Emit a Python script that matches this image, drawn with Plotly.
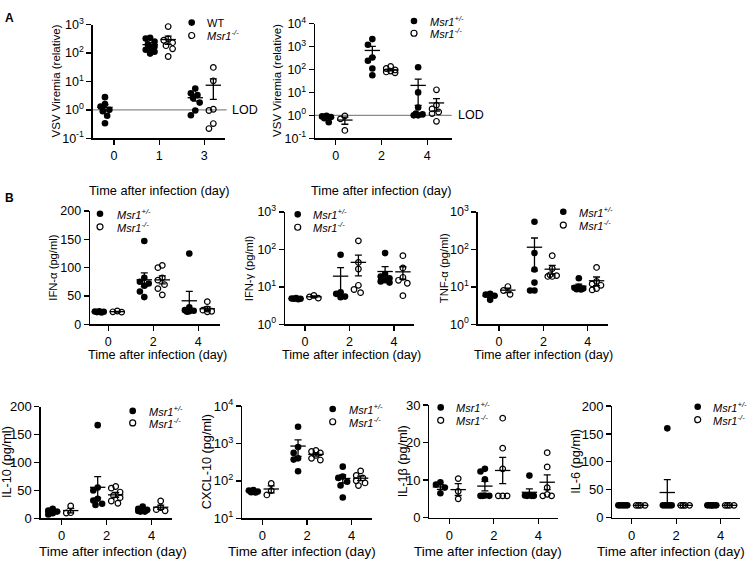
import math
import numpy as np
import plotly.graph_objects as go

W, H = 747, 568
FONT = "Liberation Sans, Arial, sans-serif"

# ---------------- data ----------------
days_a1 = ["0", "1", "3"]
days = ["0", "2", "4"]
lod_value = 1.0

ticks_a1 = [0.1, 1, 10, 100, 1000]
labels_a1 = ["10<sup>-1</sup>", "10<sup>0</sup>", "10<sup>1</sup>", "10<sup>2</sup>", "10<sup>3</sup>"]
ticks_a2 = [0.1, 1, 10, 100, 1000, 10000]
labels_a2 = ["10<sup>-1</sup>", "10<sup>0</sup>", "10<sup>1</sup>", "10<sup>2</sup>", "10<sup>3</sup>", "10<sup>4</sup>"]
ticks_log03 = [1, 10, 100, 1000]
labels_log03 = ["10<sup>0</sup>", "10<sup>1</sup>", "10<sup>2</sup>", "10<sup>3</sup>"]
ticks_log14 = [10, 100, 1000, 10000]
labels_log14 = ["10<sup>1</sup>", "10<sup>2</sup>", "10<sup>3</sup>", "10<sup>4</sup>"]
ticks_200 = [0, 50, 100, 150, 200]
labels_200 = ["0", "50", "100", "150", "200"]
ticks_30 = [0, 10, 20, 30]
labels_30 = ["0", "10", "20", "30"]

# values per day group (day index 0, 1, 2)
vsv_a1_wt = [[2.8, 1.6, 1.3, 1.0, 0.9, 0.62, 0.34],
             [340, 320, 250, 200, 170, 150, 130, 110, 95],
             [5.6, 3.8, 3.3, 2.6, 1.8, 0.95, 0.65]]
vsv_a1_ko = [[],
             [850, 320, 280, 230, 180, 140, 75],
             [31, 10.5, 1.05, 0.95, 0.33, 0.22]]
vsv_a2_het = [[0.95, 0.9, 0.85, 0.75, 0.5],
              [2100, 1200, 330, 240, 110, 56],
              [125, 10, 2.2, 1.2, 1.1, 1.0, 1.0]]
vsv_a2_ko = [[0.95, 0.7, 0.22],
             [135, 110, 95, 85, 78, 72],
             [13, 2.8, 1.9, 1.4, 1.2, 0.55]]
ifna_het = [[23, 22.5, 22, 21.5, 21], [147, 82, 75, 72, 68, 58, 48], [125, 30, 25, 24, 23, 22]]
ifna_ko = [[23.5, 22, 21.5], [104, 100, 82, 78, 70, 63, 52], [40, 27, 25, 23, 22]]
ifng_het = [[5.0, 4.9, 4.8, 4.8, 4.7], [72, 7.2, 6.5, 5.5, 5.3], [80, 22, 19, 17, 15, 14, 13]]
ifng_ko = [[5.9, 5.4, 5.0], [170, 45, 30, 11, 8.5, 7], [68, 32, 18, 15, 12.5, 5.8]]
tnfa_het = [[6.5, 6.2, 5.8, 4.5], [550, 80, 29, 13, 8, 8], [17, 10, 9.5, 9, 8.7, 8.5]]
tnfa_ko = [[10.2, 8.0, 6.3], [68, 31, 21, 20, 19, 19], [33, 14, 12, 11, 9, 8.3]]
il10_het = [[17, 14, 12, 9, 7], [167, 55, 50, 35, 32, 26, 24], [21, 17, 15, 14, 13, 12, 12]]
il10_ko = [[22, 10, 9.5], [57, 54, 47, 41, 37, 31, 27], [31, 19, 15.5, 13.5]]
cxcl10_het = [[57, 55, 52, 50, 49], [2800, 800, 560, 400, 370, 180], [240, 130, 120, 95, 75, 36]]
cxcl10_ko = [[85, 55, 42], [650, 610, 560, 480, 400, 360], [185, 140, 120, 100, 88, 75]]
il1b_het = [[9.4, 8.8, 8.0, 6.5], [13, 12.3, 10.2, 5.9, 5.8, 5.8, 5.8], [11.2, 6, 5.9, 5.8, 5.8, 5.8]]
il1b_ko = [[10.4, 7.0, 5.0], [26.5, 18.5, 13, 5.8, 5.8, 5.8], [17.3, 13.5, 8, 6.2, 5.8, 5.8]]
il6_het = [[22, 22, 22, 22, 22], [160, 22, 22, 22, 22, 22], [22, 22, 22, 22, 22, 22]]
il6_ko = [[22, 22, 22, 22], [22, 22, 22, 22], [22, 22, 22, 22]]

name_wt = "WT"
name_het = "<i>Msr1<sup>+/-</sup></i>"
name_ko = "<i>Msr1<sup>-/-</sup></i>"
xtitle = "Time after infection (day)"

# ---------------- layout spec (positions in px) ----------------
# box = (x_left, x_right, tick0_px, tick2_px, y_top, y_bottom)
rowA = dict(tick=12.5, xt=12.75, yt=11.5, xty=187)
rowB = dict(tick=12.5, xt=12.65, yt=11.2, xty=357)
rowC = dict(tick=13, xt=13.4, yt=12.7, xty=559.5)

panels = [
    dict(g1=vsv_a1_wt, g2=vsv_a1_ko, n1=name_wt, n2=name_ko, cats=days_a1, ytype="log", yr=(-1, 3),
         tv=ticks_a1, tt=labels_a1, ytitle="VSV Viremia (relative)", box=(92.7, 225, 114, 204.3, 16, 133.3),
         row=rowA, ytx=56, xtx=159.5, leg=(191.7, 14, 27.3, 205), lod=(1.013, 1.038)),
    dict(g1=vsv_a2_het, g2=vsv_a2_ko, n1=name_het, n2=name_ko, cats=days, ytype="log", yr=(-1, 4),
         tv=ticks_a2, tt=labels_a2, ytitle="VSV Viremia (relative)", box=(315, 451.7, 335.7, 427.3, 15, 133.3),
         row=rowA, ytx=277, xtx=381.5, leg=(414, 12.3, 25, 428.3), lod=(1.0, 1.031)),
    dict(g1=ifna_het, g2=ifna_ko, n1=name_het, n2=name_ko, cats=days, ytype="linear", yr=(0, 200),
         tv=ticks_200, tt=labels_200, ytitle="IFN-α (pg/ml)", box=(90, 220, 108.3, 198.3, 208.3, 325),
         row=rowB, ytx=53, xtx=157, leg=(100, 211, 224.5, 115)),
    dict(g1=ifng_het, g2=ifng_ko, n1=name_het, n2=name_ko, cats=days, ytype="log", yr=(0, 3),
         tv=ticks_log03, tt=labels_log03, ytitle="IFN-γ (pg/ml)", box=(285, 414, 305, 394, 209.3, 325),
         row=rowB, ytx=249, xtx=351, leg=(297.7, 211.7, 225, 311)),
    dict(g1=tnfa_het, g2=tnfa_ko, n1=name_het, n2=name_ko, cats=days, ytype="log", yr=(0, 3),
         tv=ticks_log03, tt=labels_log03, ytitle="TNF-α (pg/ml)", box=(477.7, 608.3, 499, 587.7, 209.3, 325),
         row=rowB, ytx=444, xtx=543.5, leg=(563.3, 209, 222.7, 576.7)),
    dict(g1=il10_het, g2=il10_ko, n1=name_het, n2=name_ko, cats=days, ytype="linear", yr=(0, 200),
         tv=ticks_200, tt=labels_200, ytitle="IL-10 (pg/ml)", box=(40.7, 171.7, 61.7, 151.7, 410, 525),
         row=rowC, ytx=6.5, xtx=113, leg=(132.7, 414.3, 426.7, 146.7)),
    dict(g1=cxcl10_het, g2=cxcl10_ko, n1=name_het, n2=name_ko, cats=days, ytype="log", yr=(1, 4),
         tv=ticks_log14, tt=labels_log14, ytitle="CXCL-10 (pg/ml)", box=(242.3, 372, 262.3, 351.7, 409.3, 525),
         row=rowC, ytx=207, xtx=302, leg=(332.7, 412.3, 425.5, 346.7)),
    dict(g1=il1b_het, g2=il1b_ko, n1=name_het, n2=name_ko, cats=days, ytype="linear", yr=(0, 30),
         tv=ticks_30, tt=labels_30, ytitle="IL-1β (pg/ml)", box=(429.3, 558, 449.3, 538.3, 408.3, 524.3),
         row=rowC, ytx=403, xtx=488, leg=(440.7, 410.7, 424, 454)),
    dict(g1=il6_het, g2=il6_ko, n1=name_het, n2=name_ko, cats=days, ytype="linear", yr=(0, 200),
         tv=ticks_200, tt=labels_200, ytitle="IL-6 (pg/ml)", box=(612.3, 740, 631.7, 720.7, 409.3, 524.3),
         row=rowC, ytx=576, xtx=670.5, leg=(697.7, 410, 423.3, 711)),
]

GROUP_OFF = 0.2
DOT = 6.6
OPEN = 5.6
LW = 1.3


def ypix(v, p):
    lo, hi = p["yr"]
    ylen = p["box"][5] - p["box"][4]
    if p["ytype"] == "log":
        f = (math.log10(v) - lo) / (hi - lo)
    else:
        f = (v - lo) / (hi - lo)
    return f * ylen


def swarm(vals, p, diam=6.6):
    ys = [ypix(v, p) for v in vals]
    cands = [0.0, -2.2, 2.2, -4.4, 4.4]
    placed = []
    offs = [0.0] * len(vals)
    for k in sorted(range(len(vals)), key=lambda j: -ys[j]):
        best, bestd = 0.0, -1.0
        for c in cands:
            d = min((math.hypot(c - ox, ys[k] - oy) for ox, oy in placed), default=1e9)
            if d >= diam:
                best = c
                break
            if d > bestd:
                bestd, best = d, c
        offs[k] = best
        placed.append((best, ys[k]))
    return offs


fig = go.Figure()
layout = dict(width=W, height=H, margin=dict(l=0, r=0, t=0, b=0), paper_bgcolor="white",
              plot_bgcolor="white", showlegend=False, font=dict(family=FONT, color="black"))
shapes = []
annotations = []

for i, p in enumerate(panels, start=1):
    sfx = "" if i == 1 else str(i)
    xid, yid = "x" + sfx, "y" + sfx
    x0, x1, t0, t2, ytop, ybot = p["box"]
    sp = (t2 - t0) / 2.0
    xr = [(x0 - t0) / sp, 2 + (x1 - t2) / sp]
    r = p["row"]
    axis_common = dict(showline=True, linecolor="black", linewidth=LW, ticks="outside", ticklen=5,
                       tickwidth=LW, tickcolor="black", showgrid=False, zeroline=False,
                       tickfont=dict(size=r["tick"], family=FONT, color="black"), fixedrange=True)
    layout["xaxis" + sfx] = dict(domain=[x0 / W, x1 / W], range=xr, anchor=yid, tickmode="array",
                                 tickvals=[0, 1, 2], ticktext=p["cats"], **axis_common)
    layout["yaxis" + sfx] = dict(domain=[1 - ybot / H, 1 - ytop / H], type=p["ytype"], range=list(p["yr"]),
                                 anchor=xid, tickmode="array", tickvals=p["tv"], ticktext=p["tt"],
                                 **axis_common)

    for gi, (groups, filled) in enumerate([(p["g1"], True), (p["g2"], False)]):
        sign = -1 if gi == 0 else 1
        xs, ys, mx, my, me = [], [], [], [], []
        for d, vals in enumerate(groups):
            if not vals:
                continue
            offs = swarm(vals, p)
            for v, o in zip(vals, offs):
                xs.append(d + sign * GROUP_OFF + o / sp)
                ys.append(v)
            arr = np.array(vals, dtype=float)
            mx.append(d + sign * GROUP_OFF)
            my.append(arr.mean())
            me.append(arr.std(ddof=1) / math.sqrt(len(arr)) if len(arr) > 1 else 0.0)
        if filled:
            mk = dict(symbol="circle", size=DOT, color="black", line=dict(width=0))
        else:
            mk = dict(symbol="circle-open", size=OPEN, color="black", line=dict(width=1.2, color="black"))
        fig.add_trace(go.Scatter(x=xs, y=ys, mode="markers", marker=mk, xaxis=xid, yaxis=yid,
                                 hoverinfo="skip", cliponaxis=False))
        fig.add_trace(go.Scatter(x=mx, y=my, mode="markers", xaxis=xid, yaxis=yid, cliponaxis=False,
                                 marker=dict(symbol="line-ew", size=11, color="black",
                                             line=dict(width=LW, color="black")),
                                 error_y=dict(type="data", array=me, symmetric=True, width=3.5,
                                              thickness=LW, color="black"),
                                 hoverinfo="skip"))

    # legend (symbols as shapes, text as annotations)
    lx, ly1, ly2, ltx = p["leg"]
    rr = DOT / 2
    shapes.append(dict(type="circle", xref="paper", yref="paper", xsizemode="pixel", ysizemode="pixel",
                       xanchor=lx / W, yanchor=1 - ly1 / H, x0=-rr, x1=rr, y0=-rr, y1=rr,
                       fillcolor="black", line=dict(width=0)))
    ro = 3.0
    shapes.append(dict(type="circle", xref="paper", yref="paper", xsizemode="pixel", ysizemode="pixel",
                       xanchor=lx / W, yanchor=1 - ly2 / H, x0=-ro, x1=ro, y0=-ro, y1=ro,
                       fillcolor="rgba(0,0,0,0)", line=dict(width=1.2, color="black")))
    for txt, yy in [(p["n1"], ly1), (p["n2"], ly2)]:
        annotations.append(dict(text=txt, xref="paper", yref="paper", x=ltx / W, y=1 - yy / H,
                                xanchor="left", yanchor="middle", showarrow=False,
                                font=dict(size=11, family=FONT, color="black")))

    # axis titles
    annotations.append(dict(text=xtitle, xref="paper", yref="paper", x=p["xtx"] / W,
                            y=1 - r["xty"] / H, xanchor="center", yanchor="middle", showarrow=False,
                            font=dict(size=r["xt"], family=FONT, color="black")))
    annotations.append(dict(text=p["ytitle"], xref="paper", yref="paper", x=p["ytx"] / W,
                            y=1 - (ytop + ybot) / 2 / H, xanchor="center", yanchor="middle",
                            textangle=-90, showarrow=False,
                            font=dict(size=r["yt"], family=FONT, color="black")))

    # limit of detection line
    if "lod" in p:
        lend, ltext = p["lod"]
        shapes.append(dict(type="line", xref=xid + " domain", yref=yid, x0=0, x1=lend,
                           y0=lod_value, y1=lod_value, line=dict(color="#8a8a8a", width=LW),
                           layer="below"))
        annotations.append(dict(text="LOD", xref=xid + " domain", yref=yid, x=ltext,
                                y=math.log10(lod_value), xanchor="left", yanchor="middle",
                                showarrow=False, font=dict(size=12.5, family=FONT, color="black")))

# panel letters
annotations.append(dict(text="<b>A</b>", xref="paper", yref="paper", x=2.5 / W, y=1 - 9 / H,
                        xanchor="left", yanchor="middle", showarrow=False,
                        font=dict(size=12, family=FONT, color="black")))
annotations.append(dict(text="<b>B</b>", xref="paper", yref="paper", x=2.5 / W, y=1 - 195 / H,
                        xanchor="left", yanchor="middle", showarrow=False,
                        font=dict(size=12, family=FONT, color="black")))

layout["shapes"] = shapes
layout["annotations"] = annotations
fig.update_layout(**layout)
fig.write_html("out.html", config={"displayModeBar": False, "staticPlot": True},
               post_script="document.body.style.margin='0px';document.body.style.overflow='hidden';")
